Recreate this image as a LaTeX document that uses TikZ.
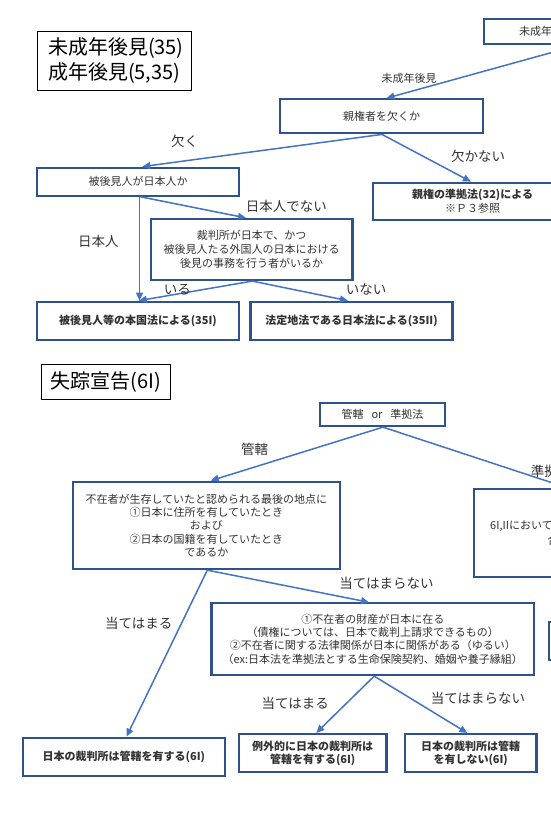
\documentclass[tikz,border=0pt]{standalone}
\usepackage{fontspec}
\setmainfont{Noto Sans CJK JP}
\usetikzlibrary{arrows.meta,calc}
\definecolor{boxblue}{HTML}{2F528F}
\definecolor{lineblue}{HTML}{4472C4}
\definecolor{txt}{HTML}{333333}
\begin{document}
\begin{tikzpicture}[x=1pt,y=-1pt,
  box/.style={draw=boxblue, line width=2.2pt, align=center, inner sep=0pt, text=txt, font=\fontsize{11}{14}\selectfont},
  bbox/.style={box, font=\fontsize{11}{13.3}\selectfont\bfseries},
  titlebox/.style={draw=black, line width=1pt, inner sep=0pt, text=black, font=\fontsize{20}{25}\selectfont},
  conn/.style={draw=lineblue, line width=1.5pt, -{Triangle[length=8pt,width=7pt]}},
  lbl/.style={text=txt, font=\fontsize{13.5}{16}\selectfont, inner sep=0pt},
  slbl/.style={text=txt, font=\fontsize{11}{13}\selectfont, inner sep=0pt},
]
\useasboundingbox (0,0) rectangle (551,838);
\clip (0,0) rectangle (551,838);

% ---------- upper part ----------
\node[titlebox, minimum width=154, minimum height=58.6, text width=133, inner xsep=10.5, align=left] (t1) at (114.5,61) {未成年後見(35)\\成年後見(5,35)};
\node[box, anchor=west, minimum width=160, minimum height=24.7, text width=120, inner xsep=35.5, align=left] (t0) at (482.5,31.4) {未成年};

\node[box, minimum width=203, minimum height=34] (q1) at (381.5,116.3) {親権者を欠くか};
\node[box, minimum width=202, minimum height=28] (q2) at (138,181.7) {被後見人が日本人か};
\node[box, minimum width=200, minimum height=37.3] (r1) at (472.6,201.4) {{\bfseries 親権の準拠法(32)による}\\※Ｐ３参照};
\node[box, minimum width=201.4, minimum height=61] (q3) at (251.7,249.5) {裁判所が日本で、かつ\\被後見人たる外国人の日本における\\後見の事務を行う者がいるか};
\node[bbox, minimum width=202, minimum height=38.3] (r2) at (138,320.9) {被後見人等の本国法による(35I)};
\node[bbox, minimum width=202, minimum height=38.3] (r3) at (351.5,320.9) {法定地法である日本法による(35II)};

\coordinate (srcA) at (620,33.6);
\draw[conn] (srcA) -- ([xshift=5]q1.north);
\draw[conn] ([xshift=0.5]q1.south) -- ([xshift=4.3]q2.north);
\draw[conn] ([xshift=0.5]q1.south) -- ([xshift=-1.7]r1.north);
\draw[conn] ([xshift=1.5]q2.south) -- ([xshift=1.5]r2.north);
\draw[conn] ([xshift=2.5]q2.south) -- ([xshift=-5.7]q3.north);
\draw[conn] ([xshift=0.6]q3.south) -- ([xshift=0.8]r2.north);
\draw[conn] ([xshift=0.6]q3.south) -- ([xshift=-3.6]r3.north);

\node[slbl] (l0) at (409,78.3) {未成年後見};
\node[lbl] (l1) at (184.5,141) {欠く};
\node[lbl] (l2) at (478,156) {欠かない};
\node[lbl] (l3) at (286.4,206.7) {日本人でない};
\node[lbl] (l4) at (98.4,241.7) {日本人};
\node[lbl] (l5) at (177.4,289.3) {いる};
\node[lbl] (l6) at (366,289.3) {いない};

% ---------- lower part ----------
\node[titlebox, minimum width=129, minimum height=35] (t2) at (106,381.8) {失踪宣告(6I)};
\node[box, minimum width=125.5, minimum height=22.7] (q4) at (382.5,414.7) {管轄\hspace{8pt}or\hspace{8pt}準拠法};
\node[box, minimum width=267.4, minimum height=87.3, font=\fontsize{11}{13.25}\selectfont] (q5) at (206.4,525.4) {不在者が生存していたと認められる最後の地点に\\①日本に住所を有していたとき\\および\\②日本の国籍を有していたとき\\であるか};
\node[box, minimum width=189, minimum height=87.4] (q6) at (568.6,533) {};
\node[slbl, anchor=west] (q6a) at (490,526) {6I,IIにおいて};
\node[slbl, anchor=west] (q6b) at (547.5,540) {合};
\node[box, anchor=west, minimum width=120, minimum height=38.3] (q7) at (547.5,640.8) {};
\node[box, minimum width=322.5, minimum height=71.7, font=\fontsize{11}{13.3}\selectfont] (q8) at (372.8,639.2) {①不在者の財産が日本に在る\\（債権については、日本で裁判上請求できるもの）\\②不在者に関する法律関係が日本に関係がある（ゆるい）\\（ex:日本法を準拠法とする生命保険契約、婚姻や養子縁組）};
\node[bbox, minimum width=202, minimum height=38] (r4) at (123.9,756.7) {日本の裁判所は管轄を有する(6I)};
\node[bbox, minimum width=147.6, minimum height=38.3] (r5) at (312.7,753.2) {例外的に日本の裁判所は\\管轄を有する(6I)};
\node[bbox, minimum width=131.7, minimum height=38.3] (r6) at (470.7,753.2) {日本の裁判所は管轄\\を有しない(6I)};

\draw[conn] ([xshift=0.5]q4.south) -- ([xshift=4.4]q5.north);
\draw[conn] ([xshift=0.5]q4.south) -- (q6.north);
\draw[conn] ([xshift=0.9]q5.south) -- ([xshift=2.6]r4.north);
\draw[conn] ([xshift=0.9]q5.south) -- ([xshift=-3.8]q8.north);
\draw[conn] ([xshift=1.4]q8.south) -- ([xshift=3.5]r5.north);
\draw[conn] ([xshift=1.4]q8.south) -- ([xshift=-3.4]r6.north);

\node[lbl] (m1) at (254.7,449.3) {管轄};
\node[lbl, anchor=west] (m2) at (530.7,471.7) {準拠法};
\node[lbl] (m3) at (386.5,583.3) {当てはまらない};
\node[lbl] (m4) at (138.8,623.3) {当てはまる};
\node[lbl] (m5) at (295.2,703.3) {当てはまる};
\node[lbl] (m6) at (477.9,698.3) {当てはまらない};
\end{tikzpicture}
\end{document}
